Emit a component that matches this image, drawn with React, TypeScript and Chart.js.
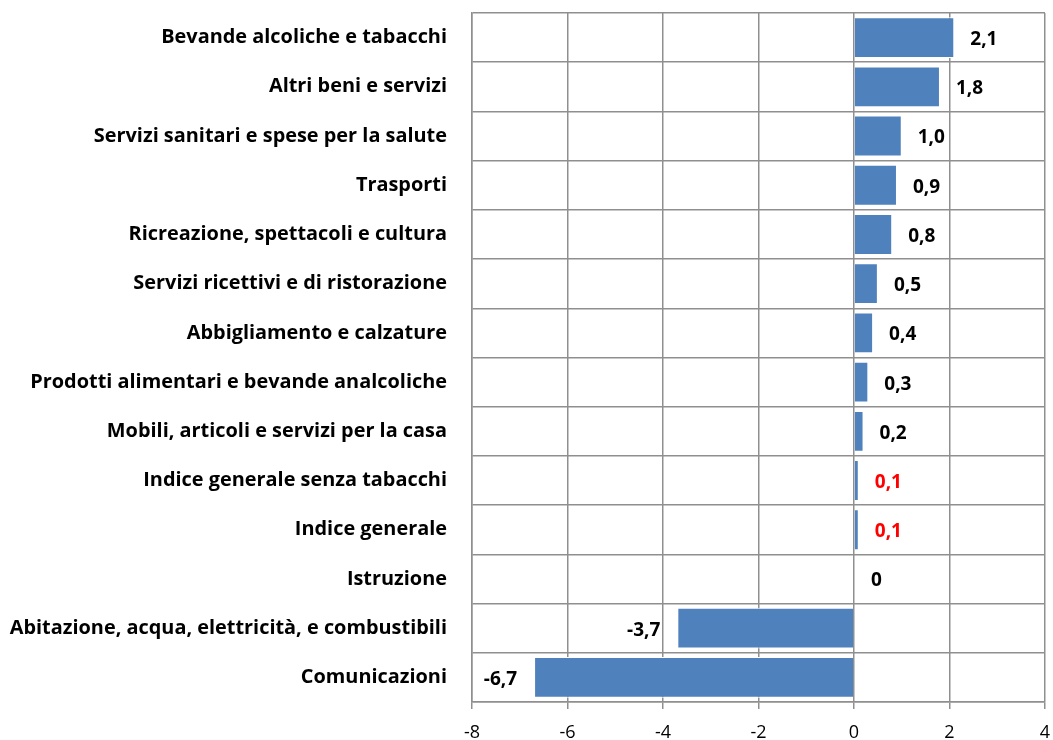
import React, { useEffect, useRef } from "react";
import { Chart, registerables } from "chart.js";

Chart.register(...registerables);

const categories = [
  "Bevande alcoliche e tabacchi",
  "Altri beni e servizi",
  "Servizi sanitari e spese per la salute",
  "Trasporti",
  "Ricreazione, spettacoli e cultura",
  "Servizi ricettivi e di ristorazione",
  "Abbigliamento e calzature",
  "Prodotti alimentari e bevande analcoliche",
  "Mobili, articoli e servizi per la casa",
  "Indice generale senza tabacchi",
  "Indice generale",
  "Istruzione",
  "Abitazione, acqua, elettricità, e combustibili",
  "Comunicazioni",
];

const values = [2.1, 1.8, 1.0, 0.9, 0.8, 0.5, 0.4, 0.3, 0.2, 0.1, 0.1, 0, -3.7, -6.7];

const valueLabels = ["2,1", "1,8", "1,0", "0,9", "0,8", "0,5", "0,4", "0,3", "0,2", "0,1", "0,1", "0", "-3,7", "-6,7"];

const highlighted = ["Indice generale senza tabacchi", "Indice generale"];

const FONT = "'Open Sans', sans-serif";

const labelPlugin = {
  id: "valueLabels",
  afterDatasetsDraw(chart: any) {
    const ctx = chart.ctx;
    const meta = chart.getDatasetMeta(0);
    const xScale = chart.scales.x;
    const zero = xScale.getPixelForValue(0);
    ctx.save();
    ctx.font = `bold 19px ${FONT}`;
    ctx.textBaseline = "middle";
    meta.data.forEach((bar: any, i: number) => {
      const v = values[i];
      ctx.fillStyle = highlighted.includes(categories[i]) ? "#ff0000" : "#000000";
      if (v < 0) {
        ctx.textAlign = "right";
        ctx.fillText(valueLabels[i], bar.x - 17, bar.y + 2);
      } else {
        ctx.textAlign = "left";
        const x = v === 0 ? zero + 17 : bar.x + 16;
        ctx.fillText(valueLabels[i], x, bar.y + 2);
      }
    });
    ctx.restore();
  },
};

export default function App() {
  const ref = useRef<HTMLCanvasElement>(null);
  useEffect(() => {
    if (!ref.current) return;
    const chart = new Chart(ref.current, {
      type: "bar",
      data: {
        labels: categories,
        datasets: [
          {
            data: values,
            backgroundColor: "#4F81BD",
            borderColor: "#ffffff",
            borderWidth: 1,
            barPercentage: 0.83,
            categoryPercentage: 1,
          },
        ],
      },
      options: {
        indexAxis: "y",
        animation: false,
        responsive: true,
        maintainAspectRatio: false,
        layout: { padding: { top: 13, right: 8, bottom: 0, left: 0 } },
        plugins: {
          legend: { display: false },
          tooltip: { enabled: false },
        },
        scales: {
          x: {
            min: -8,
            max: 4,
            afterFit: (s: any) => {
              s.height = 38;
              s.paddingLeft = 0;
              s.paddingRight = 0;
            },
            ticks: {
              stepSize: 2,
              color: "#000",
              font: { family: FONT, size: 18 },
              padding: 13,
            },
            grid: {
              color: "#8f8f8f",
              lineWidth: 1.5,
              tickLength: 7,
            },
            border: { color: "#8f8f8f", width: 1.5 },
          },
          y: {
            afterFit: (s: any) => {
              s.width = 472;
              s.paddingTop = 0;
              s.paddingBottom = 0;
            },
            ticks: {
              color: "#000",
              font: { family: FONT, size: 19.9, weight: "bold" },
              padding: 25,
            },
            grid: {
              color: "#8f8f8f",
              lineWidth: 1.5,
              offset: true,
              drawTicks: false,
            },
            border: { color: "#8f8f8f", width: 1.5 },
          },
        },
      },
      plugins: [labelPlugin],
    });
    return () => chart.destroy();
  }, []);
  return (
    <div style={{ position: "fixed", left: 0, top: 0, width: 1053, height: 740, background: "#fff" }}>
      <canvas ref={ref} />
    </div>
  );
}
